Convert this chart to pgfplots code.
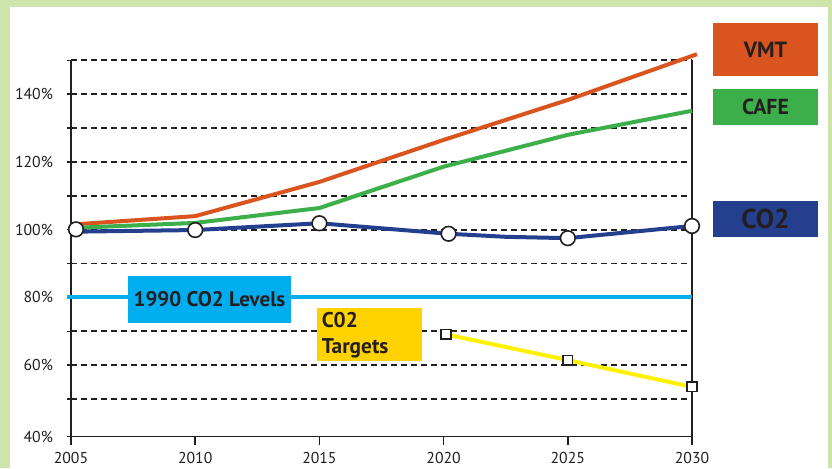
\documentclass[border=0pt]{standalone}
\usepackage{pgfplots}
\pgfplotsset{compat=1.18}
\usepackage{fontspec}
\setmainfont{PT Sans}
\definecolor{bggreen}{HTML}{CDE5AD}
\definecolor{vmtorange}{HTML}{D9541E}
\definecolor{cafegreen}{HTML}{3DAF4A}
\definecolor{coblue}{HTML}{253F8F}
\definecolor{levcyan}{HTML}{00AEEF}
\definecolor{tyellow}{HTML}{FFF200}
\definecolor{tbox}{HTML}{FFD200}
\definecolor{textdark}{HTML}{231F20}
\begin{document}
\begin{tikzpicture}
\path[use as bounding box] (0pt,0pt) rectangle (624pt,351pt);
\fill[bggreen] (0pt,0pt) rectangle (624pt,351pt);
\fill[white] (7.5pt,0pt) rectangle (621pt,345.75pt);
\begin{axis}[
  at={(53.25pt,23.475pt)}, anchor=south west,
  scale only axis, width=465.75pt, height=282.3pt,
  xmin=2005, xmax=2030, ymin=38.9, ymax=150,
  clip=false,
  axis x line*=bottom, axis y line*=left,
  axis line style={textdark, line width=1.1pt, -},
  xtick={2005,2010,2015,2020,2025,2030},
  xticklabels={2005,2010,2015,2020,2025,2030},
  ytick={50,60,70,80,90,100,110,120,130,140,150},
  yticklabels={,60\%,,80\%,,100\%,,120\%,,140\%,},
  extra y ticks={38.9}, extra y tick labels={40\%},
  extra y tick style={grid=none},
  xtick align=outside, ytick align=center,
  major tick length=6pt,
  tick style={textdark, line width=1.1pt},
  ymajorgrids,
  major grid style={textdark, line width=1.3pt, dash pattern=on 4.5pt off 3pt},
  ticklabel style={font=\fontsize{11.8}{13}\selectfont, text=textdark},
  yticklabel style={xshift=-7pt},
  xticklabel style={yshift=-2pt},
]
\draw[textdark, line width=1.1pt] (rel axis cs:1,0) -- (rel axis cs:1,1);
\draw[textdark, line width=1.1pt] (rel axis cs:1,0) -- ++(0pt,-6pt);
% 1990 level
\addplot[levcyan, line width=3pt] coordinates {(2004.85,80.1) (2030,80.1)};
% VMT
\addplot[vmtorange, line width=3pt] coordinates {
 (2005,101.5) (2010,104.0) (2015,114.1) (2020,126.5) (2025,138.3) (2030.2,151.8)};
% CAFE
\addplot[cafegreen, line width=3pt] coordinates {
 (2005,100.5) (2010,102.0) (2015,106.4) (2020,118.6) (2025,128.0) (2030,135.1)};
% CO2
\addplot[coblue, line width=3pt] coordinates {
 (2005,99.4) (2010,99.9) (2015,101.9) (2020.2,98.8) (2022.5,97.9) (2025,97.5) (2030,101.1)};
\addplot[only marks, mark=*, mark size=5.5pt, mark options={fill=white, draw=textdark, line width=1.2pt}] coordinates {
 (2005.2,100.1) (2010,99.9) (2015,101.9) (2020.2,98.8) (2025,97.5) (2030,101.1)};
% Targets
\addplot[tyellow, line width=3pt, mark=square*, mark size=3.6pt, mark options={fill=white, draw=textdark, line width=1.2pt}] coordinates {
 (2020.1,69.1) (2025,61.5) (2030,53.6)};
\end{axis}
\node[fill=vmtorange, minimum width=78.75pt, minimum height=39.75pt, inner sep=0pt, text=textdark, font=\bfseries\fontsize{16.5}{18}\selectfont] at (574.1pt,313.9pt) {VMT};
\node[fill=cafegreen, minimum width=78.75pt, minimum height=27pt, inner sep=0pt, text=textdark, font=\bfseries\fontsize{16.3}{18}\selectfont] at (574.1pt,270.75pt) {CAFE};
\node[fill=coblue, minimum width=78.75pt, minimum height=27pt, inner sep=0pt, text=textdark, font=\bfseries\fontsize{20.5}{22}\selectfont] at (574.1pt,186.75pt) {CO2};
\node[fill=levcyan, minimum width=122.25pt, minimum height=35.25pt, inner sep=0pt, text=textdark, font=\bfseries\fontsize{15.8}{18}\selectfont] at (157.1pt,126.4pt) {1990 CO2 Levels};
\node[fill=tbox, anchor=north west, text width=72pt, inner xsep=3.4pt, inner ysep=0pt, minimum height=39.75pt, align=left, text=textdark, font=\bfseries\fontsize{16}{19.5}\selectfont] at (237.75pt,120pt) {C02\\Targets};
\end{tikzpicture}
\end{document}
